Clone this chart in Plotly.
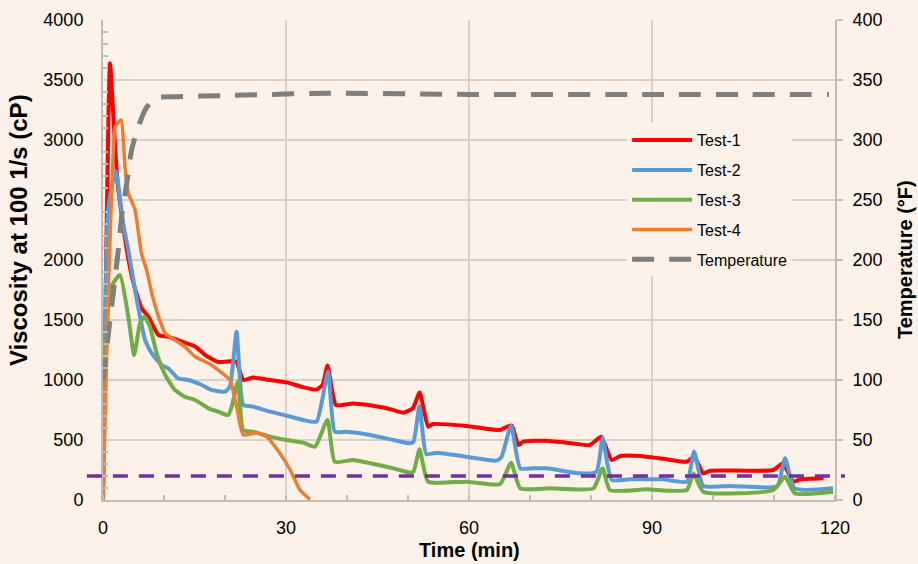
import plotly.graph_objects as go

# ---- data ----
t1 = [0, 1.15, 1.7, 2.4, 3.9, 5.0, 6.3, 7.4, 9.1, 10.7, 12.9, 15.1, 16.7, 18.9, 21.3, 21.9, 23.0, 24.6, 27.4, 30.1,
      32.8, 35.0, 36.0, 36.8, 37.6, 38.2, 41.0, 43.8, 46.5, 49.2, 50.8, 51.9, 53.3, 54.1, 59.6, 65.1, 66.2, 67.0,
      68.1, 68.9, 72.7, 76.0, 79.8, 81.2, 81.7, 83.4, 84.8, 89.1, 92.4, 95.7, 96.9, 98.4, 99.5, 105.4, 109.9,
      111.4, 113.2, 114.3, 118.1]
v1 = [0, 3640, 3194, 2640, 2083, 1806, 1600, 1530, 1375, 1360, 1320, 1280, 1210, 1150, 1158, 1150, 1000, 1020, 1000, 980,
      940, 920, 960, 1120, 900, 790, 805, 790, 765, 728, 765, 895, 610, 633, 617, 583, 610, 620,
      458, 486, 494, 478, 458, 514, 528, 333, 367, 361, 339, 319, 360, 222, 244, 244, 250,
      305, 153, 172, 181]

t2 = [0, 0.9, 2.1, 3.3, 4.15, 5.25, 6.07, 6.9, 8.0, 9.6, 10.7, 12.3, 14.0, 16.2, 17.8, 20.0, 20.8, 21.9, 23.0, 24.6,
      27.4, 30.1, 32.8, 35.0, 36.9, 38.0, 39.9, 43.8, 47.6, 50.3, 50.9, 51.9, 53.0, 54.7, 59.6, 64.5, 65.3, 66.9,
      68.4, 70.5, 72.7, 78.2, 80.9, 81.9, 83.4, 86.4, 91.8, 95.7, 96.9, 98.4, 102.8, 109.9, 110.7, 111.8, 113.4,
      119.7]
v2 = [0, 2450, 2740, 2305, 2083, 1750, 1528, 1333, 1222, 1125, 1097, 1014, 1000, 958, 917, 903, 944, 1403, 792, 778,
      736, 703, 667, 653, 1070, 569, 569, 542, 500, 472, 486, 783, 383, 394, 361, 328, 356, 617,
      264, 264, 264, 222, 236, 514, 167, 172, 172, 153, 403, 117, 117, 106, 125, 347, 97,
      97]

t3 = [0, 0.5, 1.15, 2.0, 2.8, 4.15, 5.1, 6.07, 6.8, 7.7, 8.8, 10.2, 11.8, 13.4, 15.1, 17.3, 18.9, 20.5, 21.1, 22.1,
      23.0, 24.6, 27.4, 30.1, 32.8, 34.75, 36.8, 38.0, 41.0, 43.8, 47.6, 50.3, 50.9, 51.9, 53.3, 59.6, 65.1, 66.9,
      68.4, 73.3, 80.4, 81.9, 83.1, 89.1, 95.7, 96.8, 98.4, 109.9, 111.8, 113.4, 119.7]
v3 = [0, 1300, 1750, 1833, 1875, 1528, 1208, 1472, 1528, 1444, 1222, 1042, 917, 861, 833, 764, 736, 708, 778, 986,
      583, 569, 528, 500, 478, 444, 667, 319, 333, 306, 264, 228, 236, 422, 153, 153, 133, 311,
      97, 97, 97, 264, 83, 89, 83, 222, 69, 83, 194, 56, 69]

t4 = [0, 0.9, 1.7, 2.0, 2.95, 3.6, 4.15, 5.25, 6.3, 7.15, 8.0, 9.1, 10.2, 11.8, 13.4, 15.1, 17.3, 18.9, 20.8, 21.9,
      23.0, 25.2, 26.8, 29.0, 30.7, 32.3, 33.9]
v4 = [0, 1800, 2917, 3111, 3167, 2778, 2556, 2417, 2056, 1917, 1722, 1528, 1389, 1333, 1278, 1194, 1139, 1083, 1000, 778,
      542, 561, 528, 389, 250, 83, 6]

tT = [0, 1.15, 2.5, 3.05, 3.9, 4.7, 5.8, 6.9, 8.5, 11.3, 20, 37, 60, 90, 119]
temp = [100, 150, 208, 236, 264, 292, 311, 325, 335, 336, 337, 339, 338, 338, 338]

limit_cp = 200

x_ticks = [0, 30, 60, 90, 120]

BG = "#fcf2e9"
GRID = "#d9d0c7"
AXIS = "#c3bbb3"
FONT = "Liberation Sans, Arial, sans-serif"

fig = go.Figure()
series = [("Test-1", t1, v1, "#ff0000", 4),
          ("Test-2", t2, v2, "#5b9bd5", 4),
          ("Test-3", t3, v3, "#70ad47", 4),
          ("Test-4", t4, v4, "#ed7d31", 3.5)]
for name, tx, vy, col, w in series:
    fig.add_trace(go.Scatter(x=tx, y=vy, name=name, mode="lines", legendgroup=name,
                             line=dict(color=col, width=w, shape="spline", smoothing=0.5)))
fig.add_trace(go.Scatter(x=tT, y=temp, name="Temperature", mode="lines", yaxis="y2", legendgroup="T",
                         line=dict(color="#7f7f7f", width=5, dash="22px,15px", shape="spline", smoothing=0.6)))

fig.add_shape(type="line", xref="paper", yref="y", x0=-0.022, x1=1.0137, y0=limit_cp, y1=limit_cp,
              line=dict(color="#7030a0", width=3.5, dash="15px,11px"))

title_font = dict(family=FONT, size=20, color="#000000", weight="bold")
fig.add_annotation(text="Time (min)", xref="paper", yref="paper", x=0.501, y=-0.104,
                   xanchor="center", yanchor="middle", showarrow=False, font=title_font)
fig.add_annotation(text="Viscosity at 100 1/s (cP)", xref="paper", yref="paper", x=-0.116, y=0.5625,
                   xanchor="center", yanchor="middle", showarrow=False, textangle=-90,
                   font=dict(family=FONT, size=24, color="#000000", weight="bold"))
fig.add_annotation(text="Temperature (°F)", xref="paper", yref="paper", x=1.0956, y=0.502,
                   xanchor="center", yanchor="middle", showarrow=False, textangle=-90, font=title_font)

fig.update_layout(
    width=918, height=564,
    margin=dict(l=103, r=83, t=20, b=64, autoexpand=False),
    paper_bgcolor=BG, plot_bgcolor=BG,
    font=dict(family=FONT, size=18, color="#000000"),
    legend=dict(x=0.716, y=0.785, xanchor="left", yanchor="top", bgcolor=BG,
                font=dict(size=16), tracegroupgap=6, itemwidth=60),
    xaxis=dict(range=[0, 120], tickvals=x_ticks, showgrid=True, gridcolor=GRID, gridwidth=1.5,
               showline=True, linecolor=AXIS, linewidth=2, ticks="", zeroline=False, automargin=False,
               ticklabelstandoff=10,
               minor=dict(dtick=10, ticks="inside", ticklen=5, tickcolor=AXIS, tickwidth=1.5, showgrid=False)),
    yaxis=dict(range=[0, 4000], dtick=500, showgrid=True, gridcolor=GRID, gridwidth=1.5,
               showline=True, linecolor=AXIS, linewidth=2, ticks="", zeroline=False, automargin=False,
               ticklabelstandoff=14,
               minor=dict(dtick=100, ticks="inside", ticklen=5, tickcolor=AXIS, tickwidth=1.5, showgrid=False)),
    yaxis2=dict(range=[0, 400], dtick=50, overlaying="y", side="right", showgrid=False, automargin=False,
                showline=True, linecolor=AXIS, linewidth=2, ticks="outside", ticklen=6, tickcolor=AXIS,
                tickwidth=1.5, zeroline=False, ticklabelstandoff=6),
)

fig.write_html("out.html", config={"displayModeBar": False},
               post_script="document.body.style.margin='0';document.body.style.background='" + BG + "';")
